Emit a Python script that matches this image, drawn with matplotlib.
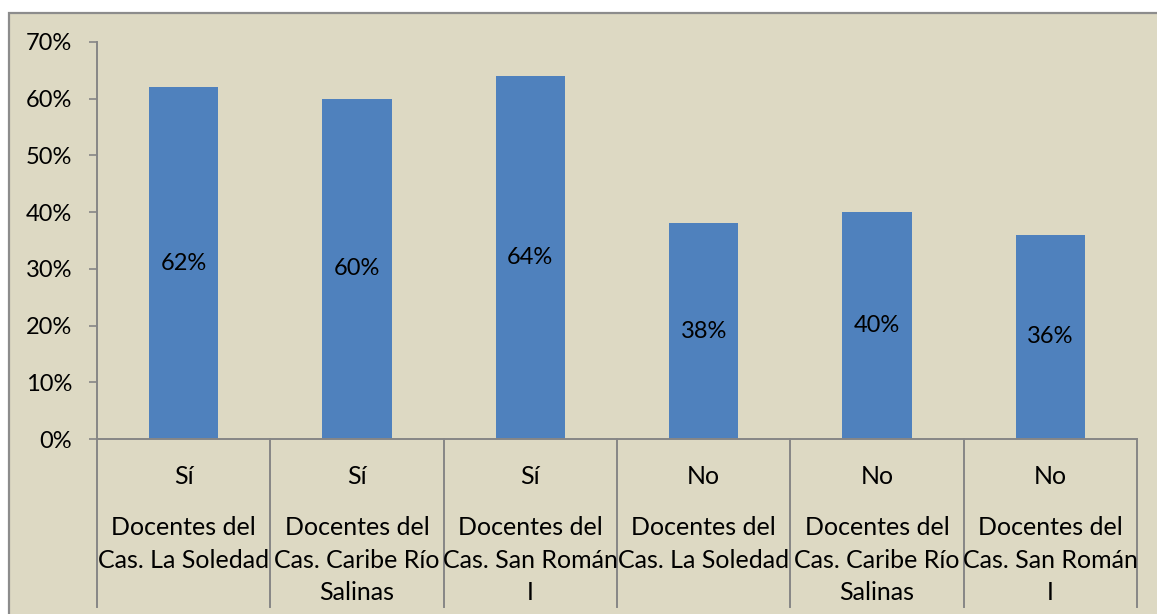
import matplotlib
matplotlib.use("Agg")
import matplotlib.pyplot as plt
from matplotlib.patches import Rectangle
from matplotlib.lines import Line2D
import matplotlib.transforms as mtransforms

# data
answers = ["Sí", "Sí", "Sí", "No", "No", "No"]
groups = [
    "Docentes del\nCas. La Soledad",
    "Docentes del\nCas. Caribe Río\nSalinas",
    "Docentes del\nCas. San Román\nI",
    "Docentes del\nCas. La Soledad",
    "Docentes del\nCas. Caribe Río\nSalinas",
    "Docentes del\nCas. San Román\nI",
]
values = [62, 60, 64, 38, 40, 36]
yticks = [0, 10, 20, 30, 40, 50, 60, 70]

BG = "#DDD9C3"
BAR = "#4F81BD"
GRID = "#868686"
FONT = "Lato"
FS = 17
FS_CAT = 18

W, H = 1157, 614
fig = plt.figure(figsize=(W / 100, H / 100), dpi=100, facecolor="white")

# outer chart area
fig.patches.append(Rectangle((9 / W, -0.05), 1.2, 1 - 13 / H + 0.05,
                             transform=fig.transFigure, facecolor=BG,
                             edgecolor="#8C8C8C", linewidth=1.6, zorder=-5))

left, right = 97 / W, 1137 / W
bottom, top = 1 - 439 / H, 1 - 42 / H
ax = fig.add_axes([left, bottom, right - left, top - bottom])
ax.set_zorder(2)
ax.patch.set_alpha(0)

n = len(values)
xs = list(range(n))
ax.bar(xs, values, width=0.4, color=BAR, zorder=2)
ax.set_xlim(-0.5, n - 0.5)
ax.set_ylim(0, 70)

for x, v in zip(xs, values):
    ax.text(x, v / 2, f"{v}%", ha="center", va="center",
            fontsize=FS, family=FONT, color="black")

ax.set_yticks(yticks)
ax.set_yticklabels([f"{t}%" for t in yticks], fontsize=FS, family=FONT)
ax.tick_params(axis="y", direction="out", length=6, width=1.2,
               color=GRID, pad=12)
ax.set_xticks([])
for s in ["top", "right"]:
    ax.spines[s].set_visible(False)
for s in ["left", "bottom"]:
    ax.spines[s].set_color(GRID)
    ax.spines[s].set_linewidth(1.4)

# category separators below the axis
trans = mtransforms.blended_transform_factory(ax.transData, fig.transFigure)
y0 = bottom
y1 = 1 - 607 / H
for b in range(n + 1):
    xb = b - 0.5
    fig.lines.append(Line2D([xb, xb], [y0, y1], transform=trans,
                            color=GRID, linewidth=1.4, zorder=1))

# two-level category labels
for x, a, g in zip(xs, answers, groups):
    ax.text(x, 1 - 476 / H, a, transform=trans, ha="center", va="center",
            fontsize=FS_CAT, family=FONT)
    ax.text(x, 1 - 516 / H, g, transform=trans, ha="center", va="top",
            fontsize=FS_CAT, family=FONT, linespacing=1.5)

fig.savefig("out.png", dpi=100, facecolor=fig.get_facecolor())
